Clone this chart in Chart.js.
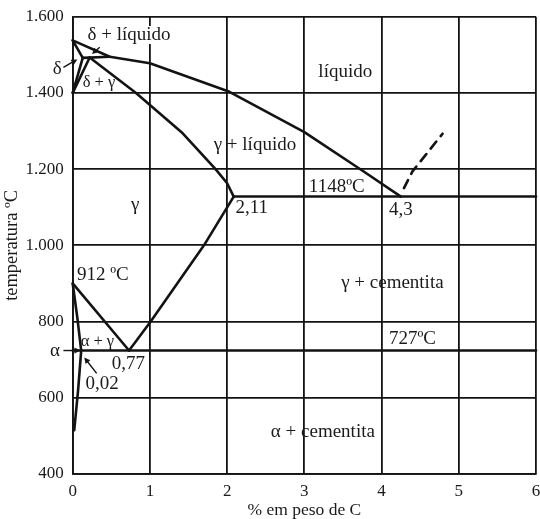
<!DOCTYPE html>
<html><head><meta charset="utf-8">
<script src="https://cdn.jsdelivr.net/npm/chart.js@4.4.1/dist/chart.umd.min.js"></script>
<style>html,body{margin:0;padding:0;background:#fff;}#wrap{width:540px;height:519px;position:relative;}canvas{display:block;}</style>
</head><body><div id="wrap"><canvas id="c" width="540" height="519"></canvas></div>
<script>
// ---- tick labels ----
const xTicks = [0, 1, 2, 3, 4, 5, 6];
const xTickLabels = ['0', '1', '2', '3', '4', '5', '6'];
const yTicks = [400, 600, 800, 1000, 1200, 1400, 1600];
const yTickLabels = ['400', '600', '800', '1.000', '1.200', '1.400', '1.600'];

// ---- phase boundaries (% C, °C) ----
const liquidusC = [0, 0.48, 1.0, 2.03, 3.0, 3.73, 4.25];
const liquidusT = [1538, 1495, 1478, 1403, 1297, 1199, 1128];
const deltaSolidusC = [0, 0.13];
const deltaSolidusT = [1538, 1492];
const peritecticC = [0.13, 0.48];
const peritecticT = [1492, 1495];
const deltaGammaC = [0, 0.13];
const deltaGammaT = [1400, 1492];
const gammaDeltaC = [0, 0.22];
const gammaDeltaT = [1400, 1493];
const gammaSolidusC = [0.22, 0.82, 1.41, 1.85, 2.0, 2.085];
const gammaSolidusT = [1493, 1400, 1297, 1200, 1163, 1128];
const eutecticC = [2.085, 6];
const eutecticT = [1128, 1128];
const acmC = [2.085, 1.70, 1.01, 0.73];
const acmT = [1128, 1000, 800, 724];
const a3C = [0, 0.73];
const a3T = [900, 724];
const alphaC = [0, 0.06, 0.11, 0.07, 0.02];
const alphaT = [900, 810, 724, 620, 515];
const eutectoidC = [0, 6];
const eutectoidT = [724, 724];
const dashedC = [4.29, 4.40, 4.79];
const dashedT = [1150, 1194, 1293];

// ---- annotations ----
const labelText = ['δ + líquido', 'δ', 'δ + γ', 'líquido', 'γ + líquido', '1148ºC', '2,11', '4,3', 'γ',
  'γ + cementita', '912 ºC', '727ºC', 'α + γ', '0,77', '0,02', 'α', 'α + cementita'];
const labelC = [0.73, -0.2, 0.34, 3.53, 2.36, 3.42, 2.32, 4.25, 0.81, 4.14, 0.39, 4.4, 0.32, 0.72, 0.38, -0.23, 3.24];
const labelT = [1552, 1463, 1428, 1455, 1263, 1154, 1098, 1093, 1106, 902, 923, 755, 747, 689, 637, 724, 509];

const arrowFromC = [-0.12, 0.35, -0.12, 0.31];
const arrowFromT = [1467, 1520, 724, 664];
const arrowToC = [0.06, 0.25, 0.1, 0.15];
const arrowToT = [1488, 1502, 724, 706];

function pts(cs, ts) { return cs.map((c, i) => ({ x: c, y: ts[i] })); }
const INK = '#131313';
function lineDs(cs, ts, dash) {
  return { data: pts(cs, ts), showLine: true, borderColor: INK, borderWidth: 2.6, pointRadius: 0,
    tension: 0, fill: false, clip: false, borderDash: dash || [], borderCapStyle: 'round', borderJoinStyle: 'round' };
}
const SERIF = '"Liberation Serif", "Times New Roman", serif';
const compactLabels = ['δ + γ', 'α + γ'];
const maskedLabels = ['δ + líquido'];

const annot = {
  id: 'annot',
  beforeDraw(chart) {
    const ctx = chart.ctx; ctx.save(); ctx.fillStyle = '#fff'; ctx.fillRect(0, 0, chart.width, chart.height); ctx.restore();
  },
  afterDraw(chart) {
    const ctx = chart.ctx, xs = chart.scales.x, ys = chart.scales.y;
    ctx.save();
    ctx.textAlign = 'center'; ctx.textBaseline = 'middle';
    labelText.forEach((t, i) => {
      const size = compactLabels.includes(t) ? 16.5 : 19;
      ctx.font = size + 'px ' + SERIF;
      const px = xs.getPixelForValue(labelC[i]), py = ys.getPixelForValue(labelT[i]);
      if (maskedLabels.includes(t)) {
        const w = ctx.measureText(t).width;
        ctx.fillStyle = '#fff'; ctx.fillRect(px - w / 2 - 1, py - 9, w + 2, 18);
      }
      ctx.fillStyle = '#1a1a1a'; ctx.fillText(t, px, py);
    });
    ctx.strokeStyle = INK; ctx.fillStyle = INK; ctx.lineWidth = 1.4;
    arrowFromC.forEach((c, i) => {
      const x1 = xs.getPixelForValue(c), y1 = ys.getPixelForValue(arrowFromT[i]);
      const x2 = xs.getPixelForValue(arrowToC[i]), y2 = ys.getPixelForValue(arrowToT[i]);
      const a = Math.atan2(y2 - y1, x2 - x1), L = 6, W = 3;
      ctx.beginPath(); ctx.moveTo(x1, y1); ctx.lineTo(x2 - L * 0.7 * Math.cos(a), y2 - L * 0.7 * Math.sin(a)); ctx.stroke();
      ctx.beginPath(); ctx.moveTo(x2, y2);
      ctx.lineTo(x2 - L * Math.cos(a) + W * Math.sin(a), y2 - L * Math.sin(a) - W * Math.cos(a));
      ctx.lineTo(x2 - L * Math.cos(a) - W * Math.sin(a), y2 - L * Math.sin(a) + W * Math.cos(a));
      ctx.closePath(); ctx.fill();
    });
    ctx.restore();
  }
};

new Chart(document.getElementById('c'), {
  type: 'scatter',
  data: { datasets: [
    lineDs(liquidusC, liquidusT), lineDs(deltaSolidusC, deltaSolidusT), lineDs(peritecticC, peritecticT),
    lineDs(deltaGammaC, deltaGammaT), lineDs(gammaDeltaC, gammaDeltaT), lineDs(gammaSolidusC, gammaSolidusT),
    lineDs(eutecticC, eutecticT), lineDs(acmC, acmT), lineDs(a3C, a3T), lineDs(alphaC, alphaT),
    lineDs(eutectoidC, eutectoidT), lineDs(dashedC, dashedT, [9, 7])
  ] },
  options: {
    responsive: false, animation: false, devicePixelRatio: 1,
    layout: { padding: { top: 16.7, right: 4, left: 0, bottom: 0 } },
    plugins: { legend: { display: false }, tooltip: { enabled: false } },
    scales: {
      x: {
        type: 'linear', min: 0, max: 6,
        afterBuildTicks(s) { s.ticks = xTicks.map(v => ({ value: v })); },
        afterFit(s) { s.height = 45; s.paddingLeft = 0; s.paddingRight = 0; },
        ticks: { callback: (v) => xTickLabels[xTicks.indexOf(v)], color: '#1a1a1a', padding: 7, font: { family: SERIF, size: 17 }, maxRotation: 0 },
        grid: { color: INK, lineWidth: 1.8, drawTicks: false },
        border: { color: INK, width: 1.8 },
        title: { display: true, text: '% em peso de C', color: '#1a1a1a', font: { family: SERIF, size: 17.5 }, padding: { top: 0, bottom: -2 } }
      },
      y: {
        type: 'linear', min: 400, max: 1600,
        afterBuildTicks(s) { s.ticks = yTicks.map(v => ({ value: v })); },
        afterFit(s) { s.width = 72.7; s.paddingTop = 0; s.paddingBottom = 0; },
        ticks: { callback: (v) => yTickLabels[yTicks.indexOf(v)], color: '#1a1a1a', padding: 9, font: { family: SERIF, size: 17 } },
        grid: { color: INK, lineWidth: 1.8, drawTicks: false },
        border: { color: INK, width: 1.8 },
        title: { display: true, text: 'temperatura ºC', color: '#1a1a1a', font: { family: SERIF, size: 18.5 }, padding: { top: 1, bottom: 0 } }
      }
    }
  },
  plugins: [annot]
});
</script></body></html>
